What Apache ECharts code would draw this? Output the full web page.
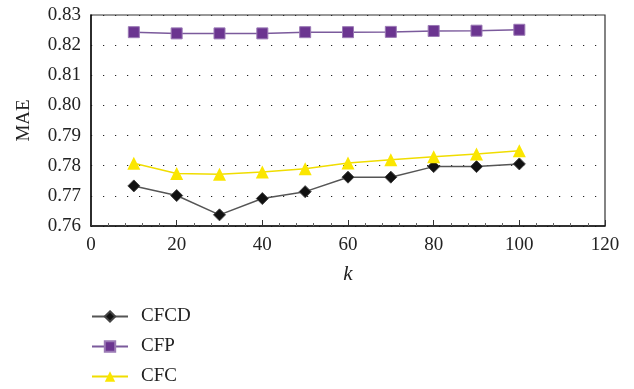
<!DOCTYPE html>
<html><head><meta charset="utf-8">
<script src="https://cdn.jsdelivr.net/npm/echarts@6/dist/echarts.min.js"></script>
<style>html,body{margin:0;padding:0;background:#fff}#c{width:634px;height:389px}</style>
</head><body><div id="c"></div>
<script>
var kValues = [10, 20, 30, 40, 50, 60, 70, 80, 90, 100];
var cfcd = [0.7733, 0.7701, 0.7637, 0.7691, 0.7714, 0.7762, 0.7762, 0.7797, 0.7797, 0.7806];
var cfp = [0.8243, 0.8239, 0.8239, 0.8239, 0.8243, 0.8243, 0.8244, 0.8247, 0.8248, 0.8251];
var cfc = [0.7808, 0.7774, 0.7772, 0.7779, 0.7790, 0.7809, 0.7820, 0.7830, 0.7839, 0.7850];
var seriesNames = ['CFCD', 'CFP', 'CFC'];

function pairs(arr){ return kValues.map(function(k,i){ return [k, arr[i]]; }); }
var font = 'Liberation Serif';
var legendTops = [307, 337, 367];
var legends = seriesNames.map(function(n, i){
  return {
    orient: 'vertical', left: 91, top: legendTops[i], itemWidth: 36, itemHeight: 13, padding: 0,
    textStyle: {fontFamily: font, fontSize: 19, color: '#222', padding: [0, 0, 0, 8]},
    data: [n]
  };
});
var chart = echarts.init(document.getElementById('c'));
chart.setOption({
  animation: false,
  textStyle: {fontFamily: font},
  grid: {left: 91, right: 29, top: 15, bottom: 163, show: true, borderColor: '#333', borderWidth: 1.2, backgroundColor: 'transparent'},
  legend: legends,
  xAxis: {
    type: 'value', min: 0, max: 120, interval: 20,
    name: 'k', nameLocation: 'middle', nameGap: 38,
    nameTextStyle: {fontFamily: font, fontStyle: 'italic', fontSize: 21, color: '#222'},
    axisLine: {lineStyle: {color: '#111', width: 1.5}},
    axisTick: {inside: true, length: 6, lineStyle: {color: '#333'}},
    minorTick: {show: true, splitNumber: 5, length: 3, lineStyle: {color: '#666'}},
    axisLabel: {fontFamily: font, fontSize: 19, color: '#222', margin: 10},
    splitLine: {show: false}
  },
  yAxis: {
    type: 'value', min: 0.76, max: 0.83, interval: 0.01,
    name: 'MAE', nameLocation: 'middle', nameGap: 57, nameRotate: 90,
    nameTextStyle: {fontFamily: font, fontSize: 19, color: '#222'},
    axisLine: {show: true, lineStyle: {color: '#111', width: 1.5}},
    axisTick: {show: false},
    axisLabel: {fontFamily: font, fontSize: 19, color: '#222', margin: 10, formatter: function(v){ return v.toFixed(2); }},
    splitLine: {show: true, lineStyle: {color: '#222', width: 1.2, type: [1.2, 10.8]}}
  },
  series: [
    {name: 'CFCD', type: 'line', data: pairs(cfcd), symbol: 'diamond', symbolSize: 12,
     lineStyle: {color: '#555', width: 1.5}, itemStyle: {color: '#111', borderColor: '#444', borderWidth: 1}},
    {name: 'CFP', type: 'line', data: pairs(cfp), symbol: 'rect', symbolSize: 11,
     lineStyle: {color: '#7b5a9c', width: 1.5}, itemStyle: {color: '#6b3590', borderColor: '#9b7ab5', borderWidth: 1}},
    {name: 'CFC', type: 'line', data: pairs(cfc), symbol: 'triangle', symbolSize: 13,
     lineStyle: {color: '#f0dd00', width: 1.5}, itemStyle: {color: '#fbe600'}}
  ]
});
</script></body></html>
